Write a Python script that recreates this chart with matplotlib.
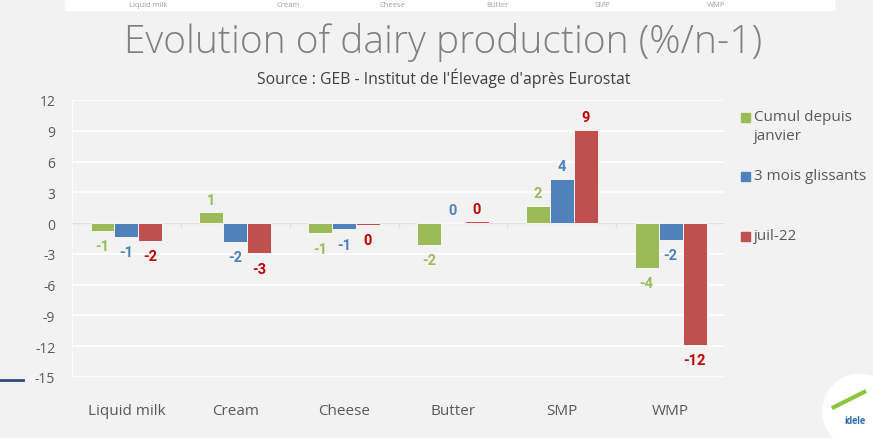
import numpy as np
import matplotlib.pyplot as plt
from matplotlib.patches import Rectangle, Ellipse

# donnees
produits = ["Liquid milk", "Cream", "Cheese", "Butter", "SMP", "WMP"]
cumul = [-0.75, 1.05, -1.0, -2.1, 1.7, -4.35]
glissants = [-1.35, -1.8, -0.6, 0.05, 4.3, -1.6]
juillet = [-1.7, -2.95, -0.2, 0.2, 9.1, -11.9]
series = ["Cumul depuis\njanvier", "3 mois glissants", "juil-22"]
ticks_y = [12, 9, 6, 3, 0, -3, -6, -9, -12, -15]

couleurs = ["#9bbb59", "#4f81bd", "#c0504d"]
couleurs_txt = ["#9bbb59", "#4f81bd", "#c00000"]
fond = "#f2f2f2"
gris = "#595959"

fig = plt.figure(figsize=(8.73, 4.39), dpi=100, facecolor=fond)
ax = fig.add_axes([0.0825, 0.139, 0.748, 0.631])
ax.set_facecolor(fond)

x = np.arange(len(produits))
w = 0.22
for k, vals in enumerate([cumul, glissants, juillet]):
    pos = x + (k - 1) * w
    ax.bar(pos, vals, width=w, color=couleurs[k], edgecolor="white",
           linewidth=0.6, zorder=3)
    for xi, v in zip(pos, vals):
        dy = 9 if v > 0 else -11
        ax.annotate(f"{round(v):d}", (xi, v), xytext=(0, dy),
                    textcoords="offset points", ha="center", va="center",
                    fontsize=10.5, fontweight="bold", color=couleurs_txt[k],
                    family="Roboto", zorder=4)

ax.set_xlim(-0.5, len(produits) - 0.5)
ax.set_ylim(-15, 12)
ax.set_yticks(ticks_y)
ax.set_yticklabels([str(t) for t in ticks_y], color=gris, fontsize=10,
                   family="Open Sans")
ax.tick_params(axis="y", length=0, pad=12)
ax.grid(axis="y", color="white", linewidth=1.2, zorder=0)
for s in ax.spines.values():
    s.set_visible(False)
ax.axvline(-0.5, color="white", linewidth=1.2, zorder=1)
ax.axhline(0, color="#e0e0e0", linewidth=1.0, zorder=2)
for b in np.arange(0.5, len(produits) - 0.5, 1):
    ax.plot([b, b], [0, -0.35], color="#e0e0e0", linewidth=1.0, zorder=2)

ax.set_xticks(x)
ax.set_xticklabels(produits, color=gris, fontsize=11, family="Open Sans")
ax.tick_params(axis="x", length=0, pad=19)

# legende placee a la main (entrees pas regulierement espacees)
leg_y = [1 - 118 / 439, 1 - 177 / 439, 1 - 237 / 439]
for c, lab, yy in zip(couleurs, series, leg_y):
    fig.patches.append(Rectangle((0.8485, yy - 0.0125), 0.0105, 0.021,
                                 transform=fig.transFigure, color=c))
    for i, l in enumerate(lab.split("\n")):
        fig.text(0.8635, yy - i * 0.043, l, ha="left", va="center",
                 fontsize=11, color=gris, family="Open Sans")

# titres
fig.text(0.508, 0.903, "Evolution of dairy production (%/n-1)", ha="center",
         va="center", fontsize=28, color="#7f7f7f", family="Open Sans",
         fontweight="light")
fig.text(0.508, 0.822, "Source : GEB - Institut de l'Élevage d'après Eurostat",
         ha="center", va="center", fontsize=11.3, color="#404040",
         family="Open Sans")

# bande blanche du haut (diapo precedente coupee)
fig.patches.append(Rectangle((0.075, 0.975), 0.88, 0.03, transform=fig.transFigure,
                             color="white", zorder=0))
for p, xi in zip(produits, [0.17, 0.33, 0.45, 0.57, 0.69, 0.82]):
    fig.text(xi, 0.988, p, ha="center", va="center", fontsize=5.5, color="#a0a0a0",
             family="Open Sans")

# trait bleu a gauche
fig.add_artist(plt.Line2D([0, 0.026], [0.132, 0.132], transform=fig.transFigure,
                          color="#2f4a7f", linewidth=2))

# logo
fig.patches.append(Ellipse((0.985, 0.06), 0.085, 0.17, transform=fig.transFigure,
                           color="white", zorder=1))
fig.add_artist(plt.Line2D([0.955, 0.99], [0.07, 0.105], transform=fig.transFigure,
                          color="#8dc63f", linewidth=3))
fig.text(0.98, 0.04, "idele", ha="center", va="center", fontsize=7,
         fontweight="bold", color="#2f6db5", family="Roboto")

fig.savefig("out.png", dpi=100, facecolor=fond)
